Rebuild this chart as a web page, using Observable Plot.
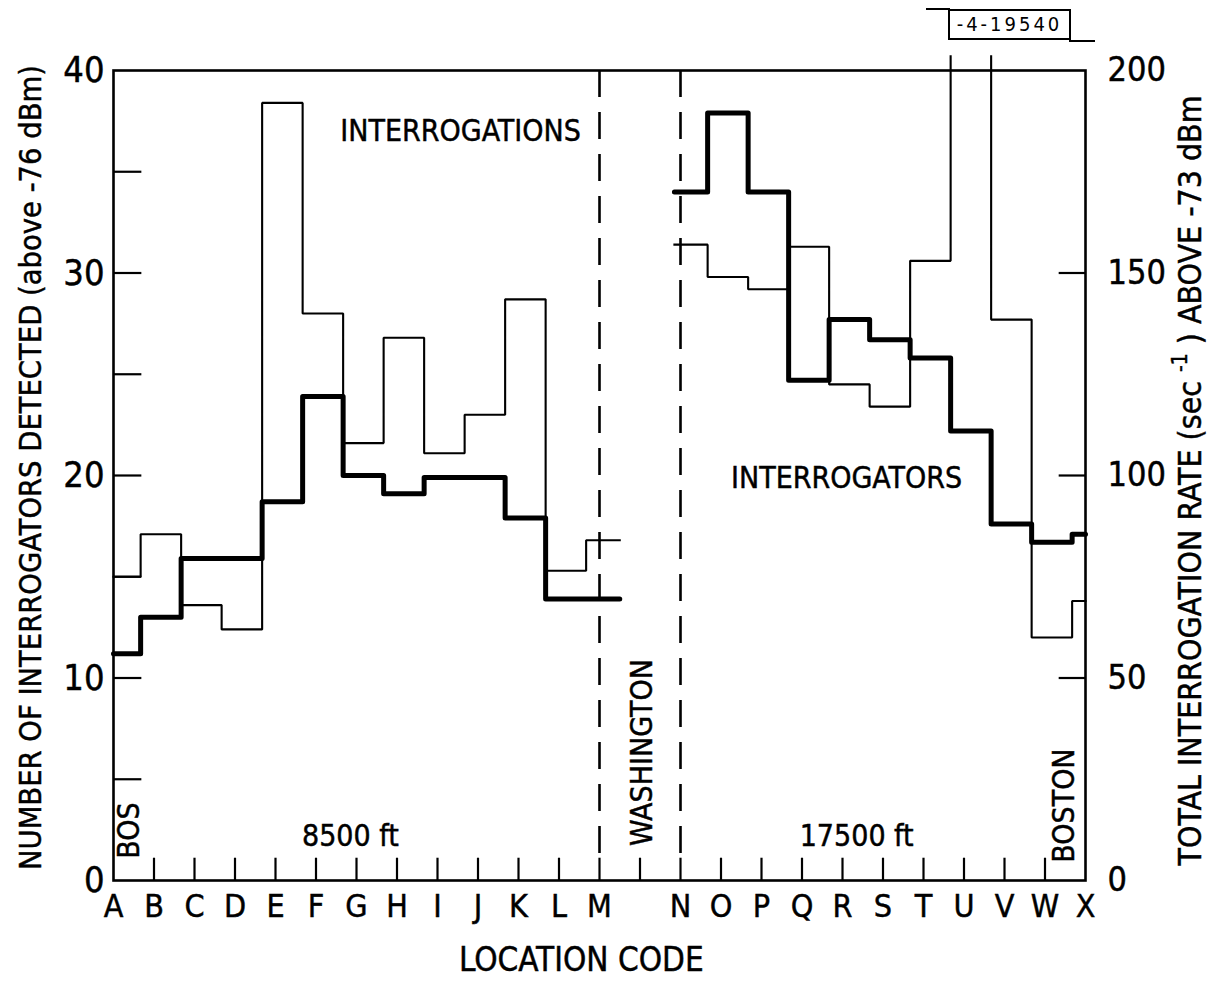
<!DOCTYPE html>
<html>
<head>
<meta charset="utf-8">
<script src="https://cdn.jsdelivr.net/npm/d3@7"></script>
<script src="https://cdn.jsdelivr.net/npm/@observablehq/plot@0.6"></script>
<style>
  body { margin: 0; background: #fff; }
  #wrap { position: relative; width: 1223px; height: 990px; overflow: hidden; }
  #chart svg text { stroke: #000; stroke-width: 0.45px; }
  #fignum { position: absolute; left: 948px; top: 9px; width: 123px; height: 31px;
    border: 2px solid #000; box-sizing: border-box; text-align: center;
    font: 20px "Liberation Sans Narrow", "DejaVu Sans Condensed", sans-serif; letter-spacing: 3px; line-height: 27px; color:#000; }
  .stub { position: absolute; height: 2px; background: #000; }
</style>
</head>
<body>
<div id="wrap">
  <div id="chart"></div>
  <div id="fignum">-4-19540</div>
  <div class="stub" style="left:926px; top:8px; width:24px;"></div>
  <div class="stub" style="left:1069px; top:40px; width:26px;"></div>
</div>
<script>
// ---------- data ----------
const letters = ["A","B","C","D","E","F","G","H","I","J","K","L","M","N","O","P","Q","R","S","T","U","V","W","X"];
// position of each location code along the axis (gap = Washington stop)
const codePos = [0,1,2,3,4,5,6,7,8,9,10,11,12,14,15,16,17,18,19,20,21,22,23,24];
// flight leg of each location (0 = Boston->Washington 8500 ft, 1 = Washington->Boston 17500 ft)
const leg = [0,0,0,0,0,0,0,0,0,0,0,0,0,1,1,1,1,1,1,1,1,1,1,1];
// number of interrogators detected (left axis)
const interrogators = [11.2,13,15.9,15.9,18.7,23.9,20,19.1,19.9,19.9,17.9,13.9,13.9,
                       34,37.9,34,24.7,27.7,26.7,25.8,22.2,17.6,16.7,17.1];
// total interrogation rate, sec^-1 (right axis); null = off scale
const interrogationRate = [75,85.5,68,62,192,140,108,134,105.5,115,143.5,76.5,84,
                           157,149,146,156.5,122.5,117,153,null,138.5,60,69];
const leftTicks = [0,10,20,30,40];
const leftMinorTicks = [5,10,15,20,25,30,35];
const rightTicks = [0,50,100,150,200];
const rightMinorTicks = [50,100,150];
const innerTicks = [1,2,3,4,5,6,7,8,9,10,11,12,13,14,15,16,17,18,19,20,21,22,23];
const dividers = [12,14];
const annotations = [
  {text:"INTERROGATIONS", x:8.57, y:37.0, rotate:0},
  {text:"INTERROGATORS", x:18.1, y:19.85, rotate:0},
  {text:"8500 ft", x:5.85, y:2.17, rotate:0},
  {text:"17500 ft", x:18.35, y:2.17, rotate:0},
  {text:"BOS", x:0.4, y:2.47, rotate:-90},
  {text:"WASHINGTON", x:13.06, y:6.32, rotate:-90},
  {text:"BOSTON", x:23.48, y:3.7, rotate:-90}
];

// ---------- layout constants ----------
const FONT = '"Liberation Sans Narrow","DejaVu Sans Condensed","Arial Narrow",sans-serif';
const RATE_PER_UNIT = 5;          // right axis = 5 x left axis
const EDGE_SHIFT = 0.67;          // step edges sit just past each code
const legRange = [[0, 12.5], [13.85, 24]];
const OFFSCALE_TOP = 40.7;

function stepPoints(vals) {
  const pts = [];
  [0, 1].forEach(g => {
    const idx = letters.map((_, i) => i).filter(i => leg[i] === g);
    idx.forEach((i, k) => {
      const x0 = k === 0 ? legRange[g][0] : codePos[i] - 1 + EDGE_SHIFT;
      const x1 = k === idx.length - 1 ? legRange[g][1] : codePos[i] + EDGE_SHIFT;
      const v = vals[i];
      if (v == null) {
        pts.push({x: x0, y: OFFSCALE_TOP, g});
        pts.push({x: (x0 + x1) / 2, y: NaN, g});
        pts.push({x: x1, y: OFFSCALE_TOP, g});
      } else {
        pts.push({x: x0, y: v, g});
        pts.push({x: x1, y: v, g});
      }
    });
  });
  return pts;
}
const thick = stepPoints(interrogators);
const thin = stepPoints(interrogationRate.map(d => d == null ? null : d / RATE_PER_UNIT));

const chart = Plot.plot({
  width: 1223, height: 990,
  marginLeft: 113, marginRight: 138, marginTop: 70, marginBottom: 110,
  x: {domain: [0, 24], label: null},
  y: {domain: [0, 40], label: null},
  style: {fontFamily: FONT, color: "#000", background: "#fff", overflow: "visible"},
  marks: [
    Plot.frame({stroke: "#000", strokeWidth: 2.6}),
    Plot.ruleY(leftMinorTicks, {y: d => d, x1: 0, x2: 0.7, stroke: "#000", strokeWidth: 2.2}),
    Plot.ruleY(rightMinorTicks, {y: d => d / RATE_PER_UNIT, x1: 23.35, x2: 24, stroke: "#000", strokeWidth: 2.2}),
    Plot.ruleX(innerTicks, {x: d => d, y1: 0, y2: 1.1, stroke: "#000", strokeWidth: 2.2}),
    Plot.ruleX(dividers, {x: d => d, y1: 40, y2: 0.8, stroke: "#000", strokeWidth: 2.6, strokeDasharray: "27,15"}),
    Plot.line(thin, {x: "x", y: "y", z: "g", stroke: "#000", strokeWidth: 2.1, strokeLinejoin: "miter", strokeLinecap: "square"}),
    Plot.line(thick, {x: "x", y: "y", z: "g", stroke: "#000", strokeWidth: 5, strokeLinejoin: "round", strokeLinecap: "round"}),
    Plot.axisX(codePos, {anchor: "bottom", tickSize: 0, tickPadding: 14, fontSize: 32, label: null,
      tickFormat: d => letters[codePos.indexOf(d)]}),
    Plot.axisY(leftTicks, {anchor: "left", tickSize: 0, tickPadding: 9, fontSize: 36, label: null}),
    Plot.axisY(rightTicks.map(d => d / RATE_PER_UNIT), {anchor: "right", tickSize: 0, tickPadding: 22, fontSize: 34, label: null,
      tickFormat: d => d * RATE_PER_UNIT}),
    Plot.text(annotations, {x: "x", y: "y", text: "text", rotate: "rotate", fontSize: 30, fill: "#000"}),
    Plot.text(["LOCATION CODE"], {x: 11.55, frameAnchor: "bottom", lineAnchor: "middle", dy: 80, fontSize: 33, fill: "#000"}),
    Plot.text(["NUMBER OF INTERROGATORS DETECTED (above -76 dBm)"], {frameAnchor: "left", dx: -82, dy: -8, rotate: -90, fontSize: 31, fill: "#000"}),
    Plot.text(["TOTAL INTERROGATION RATE (sec-1) ABOVE -73 dBm"], {frameAnchor: "right", dx: 105, dy: 5, rotate: -90, fontSize: 32, fill: "#000"})
  ]
});
document.getElementById("chart").appendChild(chart);

// long axis titles: fit to reference length (start-anchored, centred by offset), add superscript
d3.select(chart).selectAll("text").each(function() {
  const t = this.textContent;
  const sel = d3.select(this);
  if (t.startsWith("NUMBER OF")) {
    const L = 805;
    sel.attr("text-anchor", "start").attr("x", -L / 2)
       .attr("textLength", L).attr("lengthAdjust", "spacingAndGlyphs");
  } else if (t.startsWith("TOTAL INTERROGATION")) {
    const L = 770;
    sel.text(null);
    sel.append("tspan").text("TOTAL INTERROGATION RATE (sec ");
    sel.append("tspan").attr("dy", -14).attr("font-size", 21).text("-1");
    sel.append("tspan").attr("dy", 14).text(" ) ABOVE -73 dBm");
    sel.attr("text-anchor", "start").attr("x", -L / 2)
       .attr("textLength", L).attr("lengthAdjust", "spacingAndGlyphs");
  }
});
</script>
</body>
</html>
